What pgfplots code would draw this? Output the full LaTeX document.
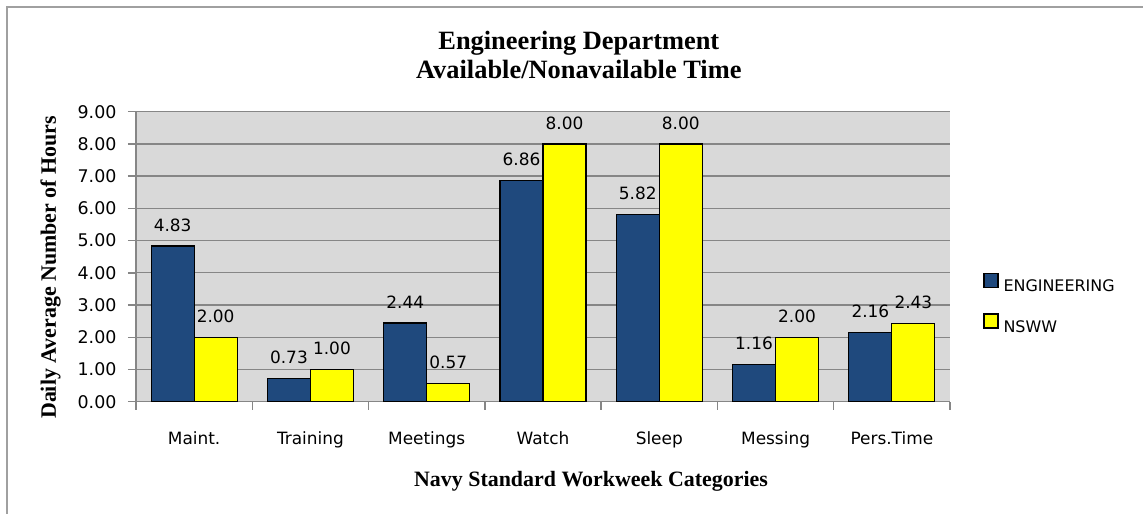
\documentclass[border=0pt]{standalone}
\usepackage{fontspec}
\setmainfont{Liberation Serif}
\newfontfamily\dv{DejaVu Sans}
\usepackage{pgfplots}
\pgfplotsset{compat=1.18}
\definecolor{navy}{RGB}{31,73,125}
\definecolor{ylw}{RGB}{255,255,0}
\definecolor{bg}{RGB}{217,217,217}
\definecolor{grd}{RGB}{134,134,134}
\definecolor{frm}{RGB}{160,160,160}
\pgfplotsset{sqlegend/.style={legend image code/.code={\draw[##1] (0bp,-1bp) rectangle (14bp,13bp);}}}
\begin{document}
\begin{tikzpicture}
\path[use as bounding box] (0,0) rectangle (1143bp,514bp);
\draw[frm,line width=2bp] (7bp,0) -- (7bp,507bp) -- (1143bp,507bp);
\begin{axis}[
  at={(136bp,112.3bp)}, anchor=south west,
  scale only axis, width=814bp, height=290bp,
  xmin=-0.5, xmax=6.5, ymin=0, ymax=9,
  ybar=0pt, bar width=43bp,
  axis background/.style={fill=bg},
  axis x line=bottom, axis y line=left,
  axis line style={-, grd, line width=1.5bp},
  tick align=outside, major tick length=8bp,
  tick style={grd, line width=1.5bp},
  ytick={0,1,...,9},
  ymajorgrids, grid style={grd, line width=1.3bp},
  yticklabel style={font=\dv\fontsize{17.5}{20}\selectfont, xshift=-8bp},
  /pgf/number format/.cd, fixed, fixed zerofill, precision=2, assume math mode=true,
  /pgfplots/.cd,
  xtick={-0.5,0.5,...,6.5}, xticklabels={},
  extra x ticks={0,1,2,3,4,5,6},
  extra x tick labels={Maint.,Training,Meetings,Watch,Sleep,Messing,Pers.Time},
  extra x tick style={major tick length=0pt, grid=none,
     xticklabel style={font=\dv\fontsize{17}{20}\selectfont, yshift=-26bp}},
  nodes near coords,
  every node near coord/.append style={font=\dv\fontsize{17}{20}\selectfont, anchor=center, yshift=21bp,
     /pgf/number format/fixed, /pgf/number format/fixed zerofill, /pgf/number format/precision=2},
  title={Engineering Department\\Available/Nonavailable Time},
  title style={font=\bfseries\fontsize{26.5}{30}\selectfont, align=center,
     at={(axis description cs:0.544,1.175)}, anchor=center},
  xlabel={Navy Standard Workweek Categories},
  xlabel style={font=\bfseries\fontsize{22}{24}\selectfont,
     at={(axis description cs:0.559,-0.273)}, anchor=center},
  ylabel={Daily Average Number of Hours},
  ylabel style={font=\bfseries\fontsize{22}{24}\selectfont,
     at={(axis description cs:-0.105,0.463)}, anchor=center, rotate=0},
  legend style={draw=none, fill=none, at={(axis description cs:1.037,0.339)}, anchor=west,
     row sep=20bp, column sep=5bp, font=\dv\fontsize{16}{19}\selectfont,
     nodes={inner sep=0pt}},
  legend cell align=left,
  sqlegend,
]
\addplot[fill=navy, draw=black, line width=1.2bp]
  coordinates {(0,4.83) (1,0.73) (2,2.44) (3,6.86) (4,5.82) (5,1.16) (6,2.16)};
\addplot[fill=ylw, draw=black, line width=1.2bp]
  coordinates {(0,2.00) (1,1.00) (2,0.57) (3,8.00) (4,8.00) (5,2.00) (6,2.43)};
\legend{ENGINEERING,NSWW}
\end{axis}
\end{tikzpicture}
\end{document}
